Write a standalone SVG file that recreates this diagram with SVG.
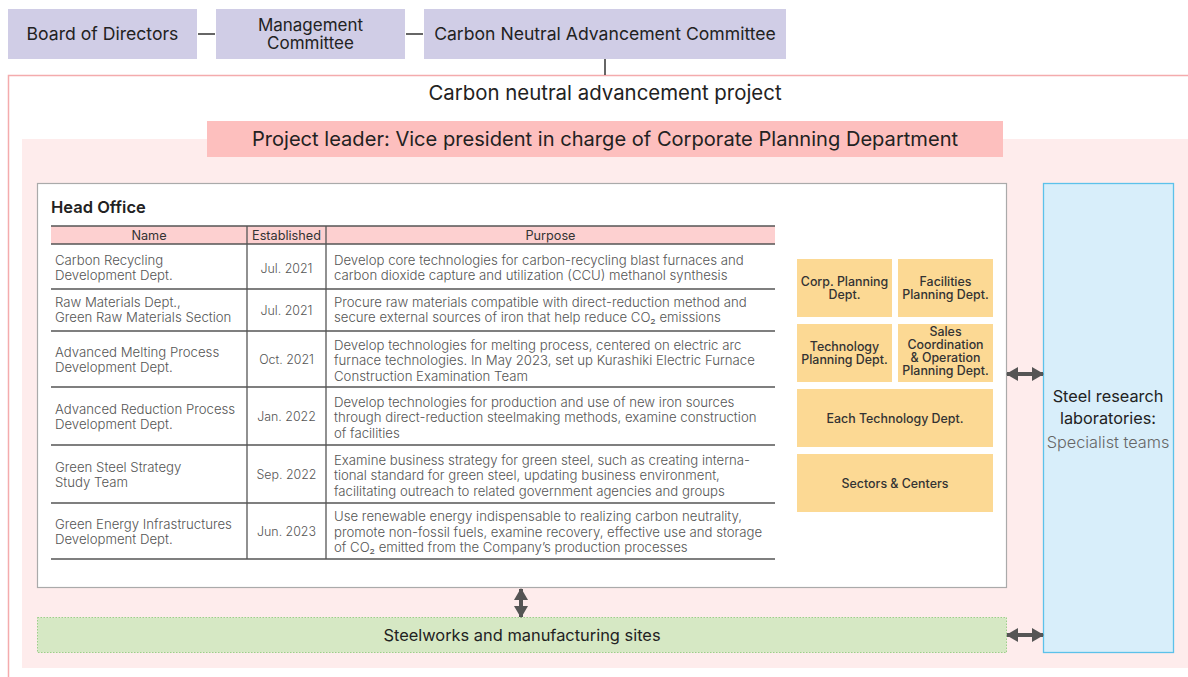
<svg xmlns="http://www.w3.org/2000/svg" width="1188" height="677" viewBox="0 0 1188 677">
<defs>
<marker id="ah" viewBox="0 0 12 14" refX="11" refY="7" markerWidth="12" markerHeight="14" orient="auto-start-reverse" markerUnits="userSpaceOnUse">
<path d="M0,0 L12,7 L0,14 Z" fill="#555"/>
</marker>
<style>
text{font-family:Inter,"Noto Sans","Liberation Sans",sans-serif;}
.top{fill:#d0cde6;}
.tt{font-size:17.6px;fill:#222;text-anchor:middle;}
.th{font-size:12.7px;fill:#333;text-anchor:middle;}
.td{font-size:13.2px;fill:#555;font-weight:300;}
.tc{text-anchor:middle;font-size:12.4px;}
.ob{fill:#fcd994;}
.ot{font-size:12.4px;fill:#333;text-anchor:middle;font-weight:500;}
.tl{stroke:#555;stroke-width:1.3;}
.arr{stroke:#555;stroke-width:4;fill:none;marker-start:url(#ah);marker-end:url(#ah);}
</style>
</defs>
<rect x="0" y="0" width="1188" height="677" fill="#fff"/>

<g id="board">
<rect class="top" x="8" y="9" width="189" height="50"/>
<text class="tt" x="102.5" y="40">Board of Directors</text>
</g>
<g id="management">
<rect class="top" x="216" y="9" width="189" height="50"/>
<text class="tt" x="310.5" y="30.5" style="font-size:17px">Management</text>
<text class="tt" x="310.5" y="49" style="font-size:17px">Committee</text>
</g>
<g id="cnac">
<rect class="top" x="424" y="9" width="362" height="50"/>
<text class="tt" x="605" y="40">Carbon Neutral Advancement Committee</text>
</g>

<g id="project">
<path d="M8.5,677 L8.5,75.5 L1188,75.5" fill="none" stroke="#f4abad" stroke-width="1.5"/>
<text x="605" y="100" font-size="20.4" fill="#222" text-anchor="middle">Carbon neutral advancement project</text>
<rect x="22" y="139" width="1166" height="529" fill="#feecec"/>
</g>

<g id="leader">
<rect x="207" y="121" width="796" height="36" fill="#fdbfbe"/>
<text x="605" y="146" font-size="20.1" fill="#222" text-anchor="middle">Project leader: Vice president in charge of Corporate Planning Department</text>
</g>

<g id="head-office">
<rect x="37.5" y="183.5" width="969" height="404" fill="#fff" stroke="#aaa" stroke-width="1.2"/>
<text x="51" y="213" font-size="16.5" font-weight="600" fill="#222">Head Office</text>
<rect x="51" y="226" width="724" height="18" fill="#fdd0d0"/>
<g class="tl">
<line x1="51" y1="226" x2="775" y2="226"/>
<line x1="51" y1="244" x2="775" y2="244"/>
<line x1="51" y1="289" x2="775" y2="289"/>
<line x1="51" y1="331" x2="775" y2="331"/>
<line x1="51" y1="387" x2="775" y2="387"/>
<line x1="51" y1="445" x2="775" y2="445"/>
<line x1="51" y1="503" x2="775" y2="503"/>
<line x1="51" y1="559" x2="775" y2="559"/>
<line x1="247" y1="226" x2="247" y2="559"/>
<line x1="326" y1="226" x2="326" y2="559"/>
</g>
<text class="th" x="149" y="240">Name</text>
<text class="th" x="286.5" y="240">Established</text>
<text class="th" x="550.5" y="240">Purpose</text>

<text class="td" x="55" y="264.5">Carbon Recycling</text>
<text class="td" x="55" y="280">Development Dept.</text>
<text class="td tc" x="286.5" y="273">Jul. 2021</text>
<text class="td" x="334" y="264.5">Develop core technologies for carbon-recycling blast furnaces and</text>
<text class="td" x="334" y="280">carbon dioxide capture and utilization (CCU) methanol synthesis</text>

<text class="td" x="55" y="306.5">Raw Materials Dept.,</text>
<text class="td" x="55" y="322">Green Raw Materials Section</text>
<text class="td tc" x="286.5" y="315">Jul. 2021</text>
<text class="td" x="334" y="306.5">Procure raw materials compatible with direct-reduction method and</text>
<text class="td" x="334" y="322">secure external sources of iron that help reduce CO₂ emissions</text>

<text class="td" x="55" y="356.5">Advanced Melting Process</text>
<text class="td" x="55" y="372">Development Dept.</text>
<text class="td tc" x="286.5" y="364">Oct. 2021</text>
<text class="td" x="334" y="349.5">Develop technologies for melting process, centered on electric arc</text>
<text class="td" x="334" y="365">furnace technologies. In May 2023, set up Kurashiki Electric Furnace</text>
<text class="td" x="334" y="380.5">Construction Examination Team</text>

<text class="td" x="55" y="413.5">Advanced Reduction Process</text>
<text class="td" x="55" y="429">Development Dept.</text>
<text class="td tc" x="286.5" y="421">Jan. 2022</text>
<text class="td" x="334" y="406.5">Develop technologies for production and use of new iron sources</text>
<text class="td" x="334" y="422">through direct-reduction steelmaking methods, examine construction</text>
<text class="td" x="334" y="437.5">of facilities</text>

<text class="td" x="55" y="471.5">Green Steel Strategy</text>
<text class="td" x="55" y="487">Study Team</text>
<text class="td tc" x="286.5" y="479">Sep. 2022</text>
<text class="td" x="334" y="464.5">Examine business strategy for green steel, such as creating interna-</text>
<text class="td" x="334" y="480">tional standard for green steel, updating business environment,</text>
<text class="td" x="334" y="495.5">facilitating outreach to related government agencies and groups</text>

<text class="td" x="55" y="528.5">Green Energy Infrastructures</text>
<text class="td" x="55" y="544">Development Dept.</text>
<text class="td tc" x="286.5" y="536">Jun. 2023</text>
<text class="td" x="334" y="521">Use renewable energy indispensable to realizing carbon neutrality,</text>
<text class="td" x="334" y="536.5">promote non-fossil fuels, examine recovery, effective use and storage</text>
<text class="td" x="334" y="552">of CO₂ emitted from the Company’s production processes</text>
</g>

<g id="corp-planning">
<rect class="ob" x="797" y="259" width="95" height="58"/>
<text class="ot" x="844.5" y="286">Corp. Planning</text>
<text class="ot" x="844.5" y="299">Dept.</text>
</g>
<g id="facilities-planning">
<rect class="ob" x="898" y="259" width="95" height="58"/>
<text class="ot" x="945.5" y="286">Facilities</text>
<text class="ot" x="945.5" y="299">Planning Dept.</text>
</g>
<g id="technology-planning">
<rect class="ob" x="797" y="324" width="95" height="58"/>
<text class="ot" x="844.5" y="350.5">Technology</text>
<text class="ot" x="844.5" y="364">Planning Dept.</text>
</g>
<g id="sales-coordination">
<rect class="ob" x="898" y="324" width="95" height="58"/>
<text class="ot" x="945.5" y="336">Sales</text>
<text class="ot" x="945.5" y="349">Coordination</text>
<text class="ot" x="945.5" y="362">&amp; Operation</text>
<text class="ot" x="945.5" y="375">Planning Dept.</text>
</g>
<g id="each-technology">
<rect class="ob" x="797" y="389" width="196" height="58"/>
<text class="ot" x="895" y="422.5">Each Technology Dept.</text>
</g>
<g id="sectors-centers">
<rect class="ob" x="797" y="454" width="196" height="58"/>
<text class="ot" x="895" y="487.5">Sectors &amp; Centers</text>
</g>

<g id="steel-research">
<rect x="1043.5" y="183.5" width="130" height="469" fill="#d8eefa" stroke="#5cc1ea" stroke-width="1.3"/>
<text x="1108" y="401.5" font-size="16.3" fill="#222" text-anchor="middle">Steel research</text>
<text x="1108" y="424" font-size="16.3" fill="#222" text-anchor="middle">laboratories:</text>
<text x="1108" y="447.5" font-size="16.3" fill="#666" font-weight="300" text-anchor="middle">Specialist teams</text>
</g>

<g id="steelworks">
<rect x="37.5" y="617.5" width="969" height="35" fill="#d6e8c4" stroke="#9ccf8a" stroke-width="1" stroke-dasharray="1.5,1.5"/>
<text x="522" y="641" font-size="16.4" fill="#222" text-anchor="middle">Steelworks and manufacturing sites</text>
</g>

<g id="connectors">
<line x1="198" y1="34" x2="215" y2="34" stroke="#333" stroke-width="1.5"/>
<line x1="406" y1="34" x2="423" y2="34" stroke="#333" stroke-width="1.5"/>
<line x1="605" y1="59" x2="605" y2="75" stroke="#333" stroke-width="1.5"/>
<line class="arr" x1="1007" y1="374" x2="1043" y2="374"/>
<line class="arr" x1="1007" y1="635" x2="1043" y2="635"/>
<line class="arr" x1="521" y1="589" x2="521" y2="617"/>
</g>
</svg>
